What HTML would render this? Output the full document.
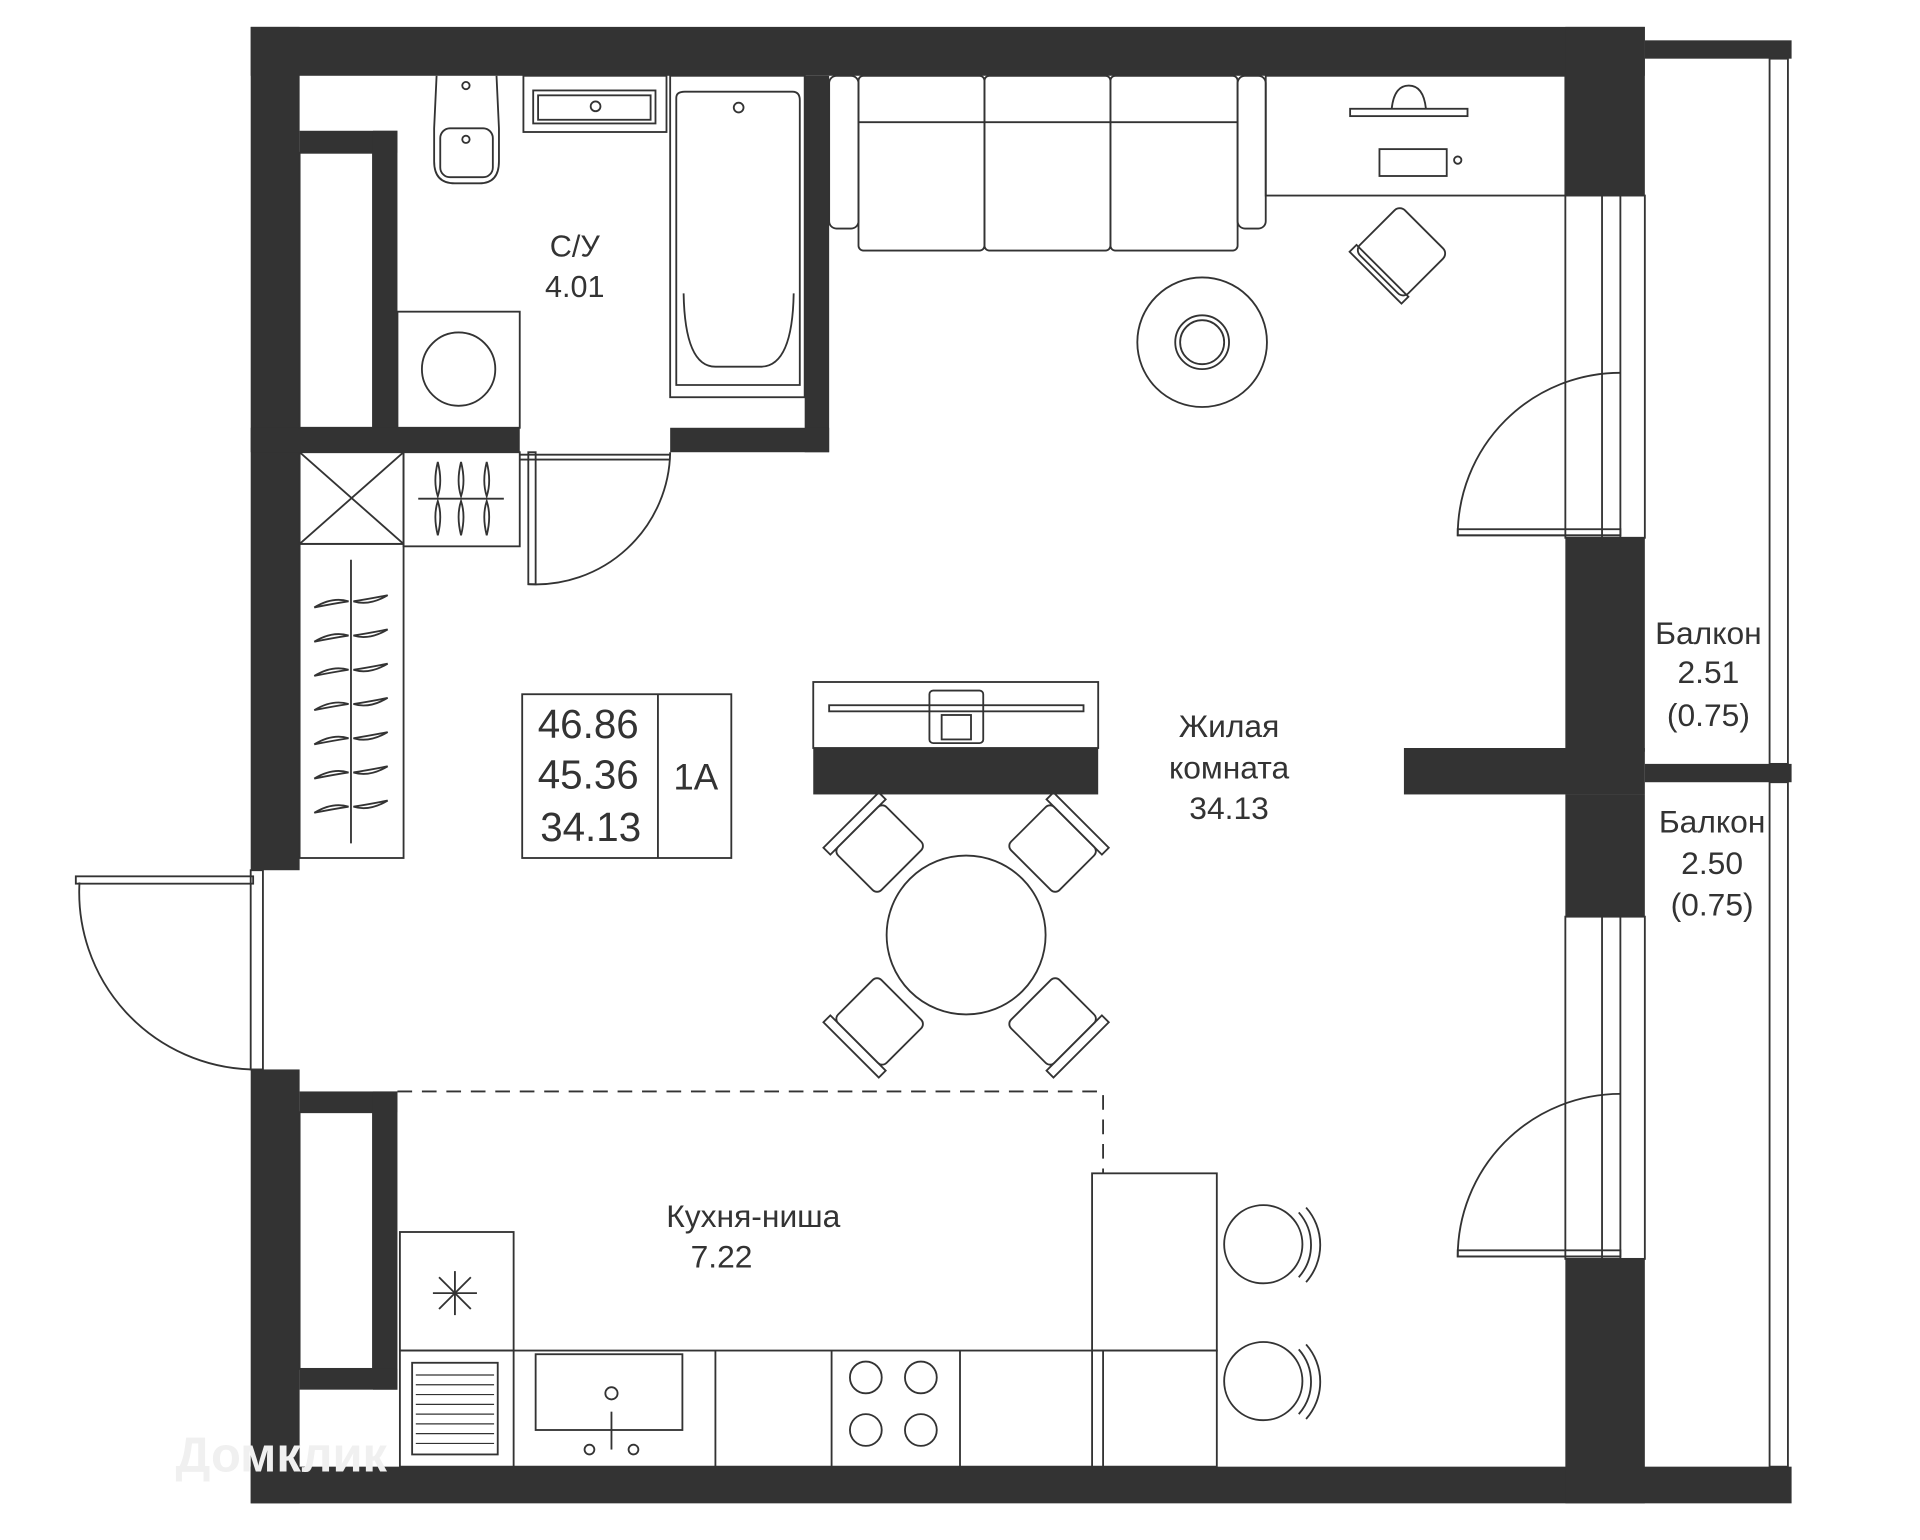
<!DOCTYPE html>
<html><head><meta charset="utf-8"><style>
html,body{margin:0;padding:0;background:#fff;}
svg{display:block;}
text{font-family:"Liberation Sans",sans-serif;fill:#333;text-anchor:middle;}
</style></head><body>
<svg width="1920" height="1540" viewBox="0 0 1570 1260" preserveAspectRatio="none" xmlns="http://www.w3.org/2000/svg">
<defs>
<g id="hg" fill="none" stroke="#333" stroke-width="1.5">
<path d="M-2 0 Q-15 -4 -30 5 Q-15 2 -2 0Z"/>
<path d="M2 0 Q15 4 30 -5 Q15 -2 2 0Z"/>
</g>
<g id="vh" fill="none" stroke="#333" stroke-width="1.5">
<path d="M0 -2 Q-4 -14 0 -30 Q4 -14 0 -2Z"/>
<path d="M0 2 Q4 14 0 30 Q-4 14 0 2Z"/>
</g>
</defs>
<g fill="#333">
<rect x="205" y="22" width="1140" height="40"/>
<rect x="1345" y="33" width="120" height="15"/>
<rect x="205" y="22" width="40" height="690"/>
<rect x="245" y="107" width="80" height="18"/>
<rect x="305" y="107" width="20" height="262"/>
<rect x="205" y="350" width="220" height="20"/>
<rect x="658" y="62" width="20" height="308"/>
<rect x="548" y="350" width="130" height="20"/>
<rect x="205" y="875" width="40" height="355"/>
<rect x="245" y="893" width="80" height="17"/>
<rect x="305" y="893" width="20" height="244"/>
<rect x="245" y="1120" width="80" height="17"/>
<rect x="205" y="1200" width="1260" height="30"/>
<rect x="1280" y="22" width="65" height="138"/>
<rect x="1280" y="440" width="65" height="175"/>
<rect x="1148" y="612" width="197" height="38"/>
<rect x="1345" y="625" width="120" height="15"/>
<rect x="1280" y="650" width="65" height="100"/>
<rect x="1280" y="1030" width="65" height="200"/>
<rect x="665" y="612" width="233" height="38"/>
</g>
<g fill="none" stroke="#333" stroke-width="1.5">
<rect x="1447" y="48" width="15" height="577"/>
<rect x="1447" y="640" width="15" height="560"/>
<rect x="1280" y="160" width="65" height="280"/>
<line x1="1310" y1="160" x2="1310" y2="440"/><line x1="1325" y1="160" x2="1325" y2="440"/>
<rect x="1280" y="750" width="65" height="280"/>
<line x1="1310" y1="750" x2="1310" y2="1030"/><line x1="1325" y1="750" x2="1325" y2="1030"/>
<path d="M1325 438 L1192 438 A133 133 0 0 1 1325 305"/>
<rect x="1192" y="433" width="133" height="5"/>
<path d="M1325 1028 L1192 1028 A133 133 0 0 1 1325 895"/>
<rect x="1192" y="1023" width="133" height="5"/>
<rect x="432" y="370" width="6" height="108"/>
<path d="M432 478 A110 110 0 0 0 548 370"/>
<line x1="425" y1="372" x2="548" y2="372"/><line x1="425" y1="376" x2="548" y2="376"/>
<rect x="62" y="717" width="145" height="6"/>
<path d="M65 722 A145 145 0 0 0 205 875"/>
<rect x="205" y="712" width="10" height="163"/>
<rect x="428" y="62" width="117" height="46"/>
<rect x="436" y="74" width="100" height="27"/><rect x="440" y="78" width="92" height="20"/>
<circle cx="487" cy="87" r="4"/>
<path d="M357 62 L355 105 L355 132 Q355 150 372 150 L392 150 Q408 150 408 132 L408 105 L406 62"/>
<rect x="360" y="105" width="43" height="40" rx="8"/>
<circle cx="381" cy="114" r="3"/><circle cx="381" cy="70" r="3"/>
<rect x="548" y="62" width="110" height="263"/>
<path d="M553 315 L553 80 Q553 75 560 75 L648 75 Q654 75 654 82 L654 315 Z"/>
<path d="M559 240 Q560 300 585 300 L622 300 Q648 300 649 240"/>
<circle cx="604" cy="88" r="4"/>
<rect x="325" y="255" width="100" height="95"/>
<circle cx="375" cy="302" r="30"/>
<rect x="245" y="370" width="85" height="75"/>
<line x1="245" y1="370" x2="330" y2="445"/><line x1="330" y1="370" x2="245" y2="445"/>
<rect x="330" y="370" width="95" height="77"/>
<line x1="342" y1="408" x2="412" y2="408"/>
<rect x="245" y="445" width="85" height="257"/>
<line x1="287" y1="458" x2="287" y2="690"/>
<rect x="245" y="910" width="60" height="210"/>
<rect x="245" y="125" width="60" height="225"/>
<rect x="678" y="62" width="24" height="125" rx="6"/>
<rect x="1012" y="62" width="23" height="125" rx="6"/>
<rect x="702" y="62" width="103" height="143" rx="4"/>
<rect x="805" y="62" width="103" height="143" rx="4"/>
<rect x="908" y="62" width="104" height="143" rx="4"/>
<line x1="702" y1="100" x2="1012" y2="100"/>
<rect x="1035" y="62" width="245" height="98"/>
<rect x="1104" y="89" width="96" height="6"/>
<path d="M1138 89 Q1140 70 1152 70 Q1164 70 1166 89"/>
<rect x="1128" y="122" width="55" height="22"/>
<circle cx="1192" cy="131" r="3"/>
<g transform="rotate(45 1146 206)">
<rect x="1118" y="180" width="56" height="52" rx="6"/><rect x="1116" y="228" width="60" height="8"/>
</g>
<circle cx="983" cy="280" r="53"/><circle cx="983" cy="280" r="22"/><circle cx="983" cy="280" r="18"/>
<rect x="665" y="558" width="233" height="54"/>
<rect x="678" y="577" width="208" height="5"/>
<rect x="760" y="565" width="44" height="43" rx="3"/><rect x="770" y="585" width="24" height="20"/>
<circle cx="790" cy="765" r="65"/>
<g transform="rotate(45 790 765)">
<rect x="762" y="640" width="56" height="50" rx="5"/><rect x="758" y="632" width="64" height="8"/>
<rect x="762" y="840" width="56" height="50" rx="5"/><rect x="758" y="890" width="64" height="8"/>
<rect x="665" y="737" width="50" height="56" rx="5"/><rect x="657" y="733" width="8" height="64"/>
<rect x="865" y="737" width="50" height="56" rx="5"/><rect x="915" y="733" width="8" height="64"/>
</g>
<path d="M325 893 L902 893 L902 960" stroke-dasharray="12 8"/>
<rect x="327" y="1008" width="93" height="97"/>
<g><line x1="372" y1="1040" x2="372" y2="1076"/><line x1="354" y1="1058" x2="390" y2="1058"/><line x1="359" y1="1045" x2="385" y2="1071"/><line x1="385" y1="1045" x2="359" y2="1071"/></g>
<rect x="327" y="1105" width="668" height="95"/>
<line x1="420" y1="1105" x2="420" y2="1200"/>
<line x1="585" y1="1105" x2="585" y2="1200"/>
<line x1="680" y1="1105" x2="680" y2="1200"/>
<line x1="785" y1="1105" x2="785" y2="1200"/>
<line x1="893" y1="1105" x2="893" y2="1200"/>
<line x1="902" y1="1105" x2="902" y2="1200"/>
<rect x="337" y="1115" width="70" height="75"/>
<g stroke-width="1"><line x1="340" y1="1125" x2="404" y2="1125"/><line x1="340" y1="1133" x2="404" y2="1133"/><line x1="340" y1="1141" x2="404" y2="1141"/><line x1="340" y1="1149" x2="404" y2="1149"/><line x1="340" y1="1157" x2="404" y2="1157"/><line x1="340" y1="1165" x2="404" y2="1165"/><line x1="340" y1="1173" x2="404" y2="1173"/><line x1="340" y1="1181" x2="404" y2="1181"/></g>
<rect x="438" y="1108" width="120" height="62"/>
<circle cx="500" cy="1140" r="5"/><line x1="500" y1="1155" x2="500" y2="1186"/>
<circle cx="482" cy="1186" r="4"/><circle cx="518" cy="1186" r="4"/>
<circle cx="708" cy="1127" r="13"/><circle cx="753" cy="1127" r="13"/>
<circle cx="708" cy="1170" r="13"/><circle cx="753" cy="1170" r="13"/>
<rect x="893" y="960" width="102" height="145"/>
<circle cx="1033" cy="1018" r="32"/><path d="M1062 992 A40 40 0 0 1 1062 1045"/><path d="M1068 988 A46 46 0 0 1 1068 1049"/>
<circle cx="1033" cy="1130" r="32"/><path d="M1062 1104 A40 40 0 0 1 1062 1157"/><path d="M1068 1100 A46 46 0 0 1 1068 1161"/>
<rect x="427" y="568" width="171" height="134"/>
<line x1="538" y1="568" x2="538" y2="702"/>
</g>
<use href="#vh" x="358" y="408"/><use href="#vh" x="377" y="408"/><use href="#vh" x="398" y="408"/>
<use href="#hg" x="287" y="492"/><use href="#hg" x="287" y="520"/><use href="#hg" x="287" y="548"/>
<use href="#hg" x="287" y="576"/><use href="#hg" x="287" y="604"/><use href="#hg" x="287" y="632"/><use href="#hg" x="287" y="660"/>
<text x="470" y="210" font-size="25">С/У</text>
<text x="470" y="243" font-size="25">4.01</text>
<text x="481" y="604" font-size="33">46.86</text>
<text x="481" y="645" font-size="33">45.36</text>
<text x="483" y="688" font-size="33">34.13</text>
<text x="569" y="646" font-size="30">1A</text>
<text x="1005" y="603" font-size="26">Жилая</text>
<text x="1005" y="637" font-size="26">комната</text>
<text x="1005" y="670" font-size="26">34.13</text>
<text x="1397" y="527" font-size="26">Балкон</text>
<text x="1397" y="559" font-size="26">2.51</text>
<text x="1397" y="594" font-size="26">(0.75)</text>
<text x="1400" y="681" font-size="26">Балкон</text>
<text x="1400" y="715" font-size="26">2.50</text>
<text x="1400" y="749" font-size="26">(0.75)</text>
<text x="616" y="1004" font-size="26">Кухня-ниша</text>
<text x="590" y="1037" font-size="26">7.22</text>
<text x="230" y="1204" font-size="40" style="fill:#f0f0f0;font-weight:bold">Домклик</text>
</svg>
</body></html>
